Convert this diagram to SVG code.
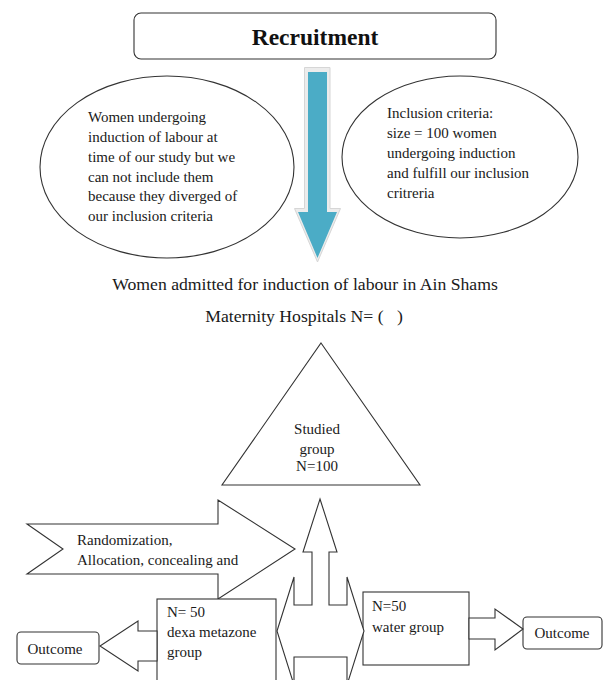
<svg xmlns="http://www.w3.org/2000/svg" width="609" height="680" viewBox="0 0 609 680">
<style>
.t{font-family:"Liberation Serif","Times New Roman",serif;font-size:15px;fill:#1a1a1a}
.b{font-size:17.7px}
.s{fill:#fff;stroke:#333;stroke-width:1.1}
</style>
<rect width="609" height="680" fill="#fff"/>
<g id="recruitment">
<rect class="s" x="134" y="13" width="362" height="46" rx="7"/>
<text x="315" y="45" text-anchor="middle" style="font-family:'Liberation Serif','Times New Roman',serif;font-size:23.5px;font-weight:bold;fill:#111">Recruitment</text>
</g>
<g id="excluded">
<ellipse class="s" cx="167" cy="167" rx="127" ry="91"/>
<text class="t"><tspan x="88" y="122">Women undergoing</tspan><tspan x="88" y="142">induction of labour at</tspan><tspan x="88" y="162">time of our study but we</tspan><tspan x="88" y="182">can not include them</tspan><tspan x="88" y="201">because they diverged of</tspan><tspan x="88" y="221">our inclusion criteria</tspan></text>
</g>
<g id="inclusion">
<ellipse class="s" cx="460" cy="157" rx="118" ry="81"/>
<text class="t"><tspan x="387" y="118">Inclusion criteria:</tspan><tspan x="387" y="138">size = 100 women</tspan><tspan x="387" y="158">undergoing induction</tspan><tspan x="387" y="178">and fulfill our inclusion</tspan><tspan x="387" y="198">critreria</tspan></text>
</g>
<g id="admitted">
<text class="t b" x="305" y="290" text-anchor="middle">Women admitted for induction of labour in Ain Shams</text>
<text class="t b" x="304" y="322" text-anchor="middle">Maternity Hospitals N= (&#160;&#160;&#160;)</text>
</g>
<g id="studied">
<polygon class="s" points="321,343 420,485 222,485"/>
<text class="t" text-anchor="middle"><tspan x="317" y="434">Studied</tspan><tspan x="317" y="454">group</tspan><tspan x="317" y="471">N=100</tspan></text>
</g>
<g id="randomization">
<polygon class="s" points="27,524 218,524 218,500 295,549 218,599 218,574 27,574 63,549"/>
<text class="t"><tspan x="77" y="545">Randomization,</tspan><tspan x="77" y="565">Allocation, concealing and</tspan></text>
</g>
<g id="dexa">
<rect class="s" x="157" y="599" width="119" height="100"/>
<text class="t"><tspan x="167" y="617">N= 50</tspan><tspan x="167" y="637">dexa metazone</tspan><tspan x="167" y="657">group</tspan></text>
</g>
<g id="water">
<rect class="s" x="363" y="592" width="106" height="73"/>
<text class="t"><tspan x="372" y="611">N=50</tspan><tspan x="372" y="632">water group</tspan></text>
</g>
<g id="outcome-left">
<rect class="s" x="17" y="632" width="82" height="32" rx="4"/>
<text class="t" x="55" y="654" text-anchor="middle">Outcome</text>
</g>
<g id="outcome-right">
<rect class="s" x="523" y="617" width="79" height="32" rx="4"/>
<text class="t" x="562" y="638" text-anchor="middle">Outcome</text>
</g>
<g id="connectors">
<polygon points="304.5,67.5 330,67.5 330,208.5 340.5,208.5 317.5,262 294.5,208.5 304.5,208.5" fill="#ececec" stroke="#d6d6d6" stroke-width="1"/>
<polygon points="308,72 327,72 327,212 337,212 317.5,258 298,212 308,212" fill="#4bacc6"/>
<polygon class="s" points="320,499 337,552 329,552 329,605 347,605 347,577 364,631 347,685 347,657 294,657 294,685 277,631 294,577 294,605 312,605 312,552 303,552"/>
<polygon class="s" points="157,631 138,631 138,621 100,646 138,671 138,661 157,661"/>
<polygon class="s" points="469,618 495,618 495,609 523,629 495,650 495,639 469,639"/>
</g>
</svg>
